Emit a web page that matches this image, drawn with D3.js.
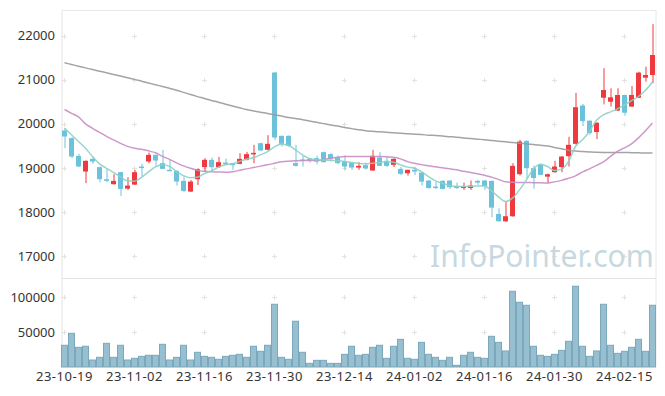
<!DOCTYPE html>
<html><head><meta charset="utf-8">
<script src="https://cdn.jsdelivr.net/npm/d3@7"></script>
<style>body{margin:0;background:#fff}svg{display:block}</style>
</head><body>
<svg id="c" width="665" height="396"></svg>
<script>
const dates=["23-10-19","23-10-20","23-10-23","23-10-24","23-10-25","23-10-26","23-10-27","23-10-30","23-10-31","23-11-01",
"23-11-02","23-11-03","23-11-06","23-11-07","23-11-08","23-11-09","23-11-10","23-11-13","23-11-14","23-11-15",
"23-11-16","23-11-17","23-11-20","23-11-21","23-11-22","23-11-23","23-11-24","23-11-27","23-11-28","23-11-29",
"23-11-30","23-12-01","23-12-04","23-12-05","23-12-06","23-12-07","23-12-08","23-12-11","23-12-12","23-12-13",
"23-12-14","23-12-15","23-12-18","23-12-19","23-12-20","23-12-21","23-12-22","23-12-26","23-12-27","23-12-28",
"24-01-02","24-01-03","24-01-04","24-01-05","24-01-08","24-01-09","24-01-10","24-01-11","24-01-12","24-01-15",
"24-01-16","24-01-17","24-01-18","24-01-19","24-01-22","24-01-23","24-01-24","24-01-25","24-01-26","24-01-29",
"24-01-30","24-01-31","24-02-01","24-02-02","24-02-05","24-02-06","24-02-07","24-02-08","24-02-13","24-02-14",
"24-02-15","24-02-16","24-02-19","24-02-20","24-02-21"];
const open=[19847,19674,19272,18916,19204,19016,18741,18629,18902,18529,18620,19030,19143,19295,19107,18955,18932,18704,18461,18742,
19016,19182,19016,19120,19107,19091,19182,19318,19559,19409,21163,19727,19727,19107,19190,19204,19220,19356,19311,19230,
19143,19120,19007,19061,18940,19234,19159,19068,18977,18878,18955,18893,18712,18575,18704,18712,18590,18541,18541,18704,
18712,18704,17955,17788,17902,18856,19613,18993,19068,18800,18902,19016,19265,19545,20415,20070,19813,20590,20500,20300,
20653,20390,20590,21045,21107];
const high=[19900,19690,19318,19170,19256,19030,18977,18856,18910,18788,18955,19091,19347,19300,19409,19181,18940,18810,18724,18990,
19220,19235,19250,19211,19110,19333,19363,19522,19570,19741,21180,19730,19735,19522,19280,19220,19280,19370,19333,19280,
19280,19130,19129,19120,19409,19356,19256,19220,19020,18960,19016,18900,18720,18688,18720,18720,18665,18665,18712,18727,
18727,18710,18083,18235,19107,19636,19620,19050,19091,18870,19159,19270,19704,20700,20450,20080,20030,21260,20805,20805,
20660,20857,21180,21295,22260];
const low=[19447,19220,19016,18653,19091,18672,18672,18620,18363,18500,18610,18802,19100,19045,18977,18940,18600,18447,18455,18612,
18916,18916,19000,19068,18955,19080,19170,19107,19380,19400,19635,19484,19470,19030,19030,19120,19084,19120,19143,19084,
18955,18955,18955,18960,18930,19040,19020,19020,18840,18825,18840,18600,18530,18522,18510,18520,18522,18500,18500,18612,
18500,17880,17780,17770,17890,18825,18758,18530,18835,18650,18890,18902,19030,19530,19950,19750,19651,20440,20390,20290,
20184,20380,20580,20955,20920];
const close=[19711,19257,19030,19159,19143,18743,18705,18704,18522,18597,18902,19020,19295,19166,18977,18940,18690,18477,18688,18970,
19182,19016,19129,19084,19061,19204,19311,19340,19393,19545,19688,19545,19500,19045,19182,19170,19143,19129,19211,19107,
19030,19007,19045,18985,19272,19045,19045,19204,18864,18955,18916,18688,18541,18541,18522,18560,18541,18575,18598,18665,
18590,18098,17788,17902,19045,19597,18993,18770,18840,18856,19030,19256,19522,20376,20060,19790,20024,20767,20600,20653,
20250,20653,21160,21107,21560];
const volume=[31000,48100,28100,29600,10000,13800,33800,13800,31000,10000,12400,15200,16700,16700,32400,10000,13800,31000,10000,21000,
15200,13800,11000,15200,16700,18100,13800,29600,22400,31000,89500,13800,11000,65300,21000,5200,9500,9500,5200,5200,
18100,29600,16700,18100,28100,31000,12400,29600,39500,12400,11000,35200,18100,13800,9500,13800,2400,16700,21000,13800,
12400,43800,35200,22900,108100,92400,88100,29600,16700,15200,18100,23800,36700,115300,29600,15200,22900,89500,31000,19500,
22400,28100,39500,22400,88100];
const ma5=[19901,19749,19597,19447,19256,19091,18989,18898,18796,18705,18694,18785,18909,19023,19068,19034,18921,18823,18778,18789,
18871,18932,19016,19068,19091,19143,19197,19227,19295,19370,19477,19533,19511,19409,19295,19211,19182,19177,19170,19159,
19143,19120,19102,19091,19107,19120,19143,19129,19068,19016,18993,18916,18803,18705,18653,18598,18575,18575,18580,18591,
18591,18478,18342,18235,18312,18501,18728,18977,19084,19030,18939,18970,19143,19484,19636,19824,20078,20203,20271,20339,
20430,20525,20619,20759,20948];
const ma20=[20323,20237,20158,19999,19897,19806,19715,19636,19556,19488,19443,19420,19386,19341,19261,19193,19114,19045,18989,18943,
18921,18909,18905,18902,18914,18943,18977,19007,19039,19068,19102,19136,19152,19161,19166,19166,19166,19188,19216,19238,
19257,19257,19257,19257,19257,19255,19250,19243,19204,19141,19102,19073,19045,19023,19000,18977,18955,18921,18893,18864,
18834,18789,18739,18682,18671,18669,18666,18664,18660,18655,18682,18716,18762,18818,18909,18977,19057,19136,19261,19375,
19454,19545,19681,19840,20015];
const ma120=[21384,21345,21306,21268,21229,21193,21157,21120,21082,21043,21007,20966,20925,20884,20846,20805,20762,20712,20662,20616,
20575,20530,20489,20444,20401,20362,20323,20292,20262,20235,20203,20174,20144,20117,20092,20062,20033,20003,19974,19947,
19917,19890,19863,19844,19828,19817,19806,19794,19785,19772,19763,19754,19742,19733,19722,19708,19695,19679,19665,19651,
19638,19622,19606,19590,19574,19558,19543,19527,19511,19493,19463,19431,19400,19381,19370,19361,19352,19350,19350,19350,
19350,19345,19341,19336,19334];
const priceTicks=[17000,18000,19000,20000,21000,22000];
const volTicks=[50000,100000];
const dateTickIdx=[0,10,20,30,40,50,60,70,80];

const svg=d3.select("#c");
const n=dates.length;
const x=d3.scaleBand().domain(d3.range(n)).range([61,656]).padding(0);
const cx=i=>x(i)+x.bandwidth()/2;
const yP=d3.scaleLinear().domain([16501,22581]).range([278,10]);
const yV=d3.scaleLinear().domain([0,127000]).range([367,278]);
const font="'Noto Sans', sans-serif";
const gridC="#e2e2e2";

// frame
svg.append("line").attr("x1",62).attr("x2",62).attr("y1",10).attr("y2",367).attr("stroke","#e4e4e4");
svg.append("line").attr("x1",656).attr("x2",656).attr("y1",10).attr("y2",367).attr("stroke","#e8e8e8");
svg.append("line").attr("x1",62).attr("x2",656).attr("y1",10.5).attr("y2",10.5).attr("stroke","#e8e8e8");
svg.append("line").attr("x1",62).attr("x2",656).attr("y1",278.5).attr("y2",278.5).attr("stroke","#e4e4e4");

// grid plus marks
const plus=(px,py)=>{
  svg.append("line").attr("x1",px-2.5).attr("x2",px+2.5).attr("y1",py).attr("y2",py).attr("stroke",gridC);
  svg.append("line").attr("x1",px).attr("x2",px).attr("y1",py-2.5).attr("y2",py+2.5).attr("stroke",gridC);
};
dateTickIdx.forEach(i=>{
  priceTicks.forEach(v=>plus(Math.round(cx(i))-0.5,Math.round(yP(v))+0.5));
  volTicks.forEach(v=>plus(Math.round(cx(i))-0.5,Math.round(yV(v))+0.5));
});

// watermark
svg.append("text").attr("x",430).attr("y",267).attr("font-family",font).attr("font-size",30)
  .attr("fill","#c7d8e1").text("InfoPointer.com");

// candles
const up="#ee3a3e", down="#6cc2da";
const cg=svg.append("g");
d3.range(n).forEach(i=>{
  const col=close[i]>=open[i]?up:down;
  cg.append("line").attr("x1",Math.round(cx(i))).attr("x2",Math.round(cx(i))).attr("y1",yP(high[i])).attr("y2",yP(low[i]))
    .attr("stroke",col).attr("stroke-width",1);
  const t=yP(Math.max(open[i],close[i])), b=yP(Math.min(open[i],close[i]));
  cg.append("rect").attr("x",x(i)+1).attr("width",5).attr("y",t).attr("height",Math.max(1.5,b-t)).attr("fill",col);
});

// MA lines
const line=arr=>d3.line().x((d,i)=>cx(i)).y(d=>yP(d)).curve(d3.curveMonotoneX)(arr);
svg.append("path").attr("d",line(ma120)).attr("fill","none").attr("stroke","#9a9a9a").attr("stroke-width",1.5).attr("opacity",0.9);
svg.append("path").attr("d",line(ma20)).attr("fill","none").attr("stroke","#c98dc4").attr("stroke-width",1.5).attr("opacity",0.9);
svg.append("path").attr("d",line(ma5)).attr("fill","none").attr("stroke","#8dd0c5").attr("stroke-width",1.5).attr("opacity",0.9);

// volume
svg.append("g").selectAll("rect").data(volume).join("rect")
  .attr("x",(d,i)=>x(i)+0.5).attr("width",x.bandwidth()-1)
  .attr("y",d=>yV(d)).attr("height",d=>yV(0)-yV(d))
  .attr("fill","#97bfcf").attr("stroke","#7aa9bd").attr("stroke-width",1);

// axes
const ay=svg.append("g").attr("transform","translate(55,0)")
  .call(d3.axisLeft(yP).tickValues(priceTicks).tickSize(0).tickPadding(0).tickFormat(d3.format("d")));
ay.select(".domain").remove();
const av=svg.append("g").attr("transform","translate(55,0)")
  .call(d3.axisLeft(yV).tickValues(volTicks).tickSize(0).tickPadding(0).tickFormat(d3.format("d")));
av.select(".domain").remove();
const ax=svg.append("g").attr("transform","translate(0,368)")
  .call(d3.axisBottom(x).tickValues(dateTickIdx).tickSize(0).tickPadding(4).tickFormat(i=>dates[i]));
ax.select(".domain").remove();
svg.selectAll(".tick text").attr("font-family",font).attr("font-size",13).attr("fill","#333");
ax.selectAll(".tick text").attr("letter-spacing",0.5);
</script>
</body></html>
